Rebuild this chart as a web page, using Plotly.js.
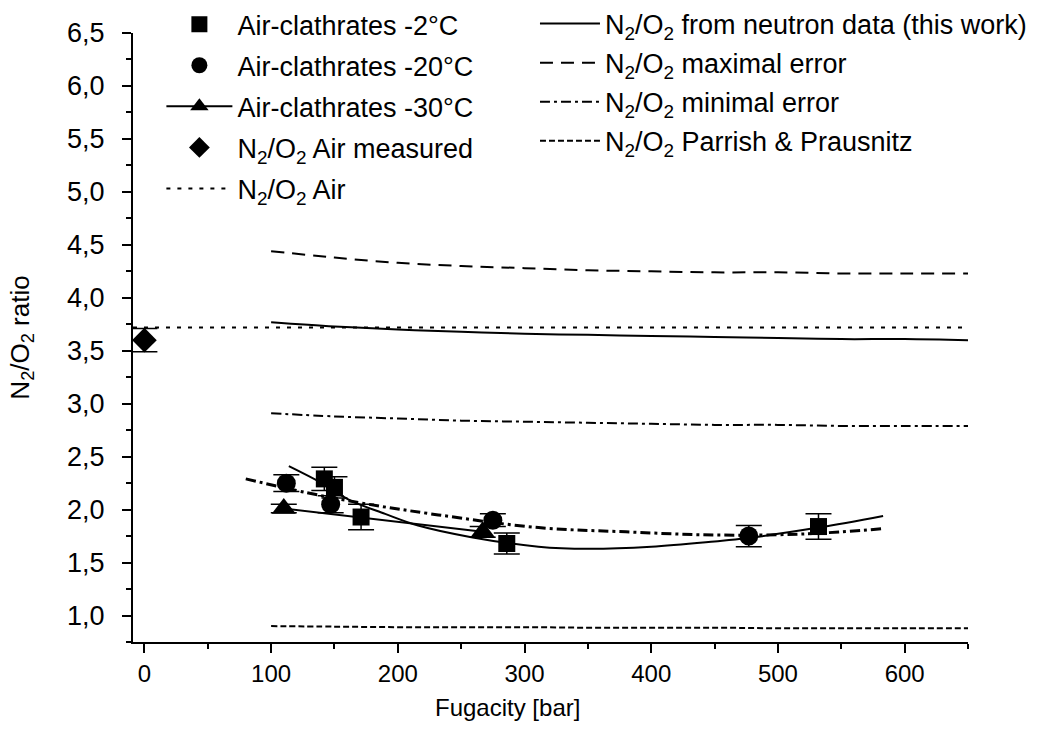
<!DOCTYPE html>
<html><head><meta charset="utf-8">
<script src="https://cdn.plot.ly/plotly-3.0.1.min.js"></script>
<style>html,body{margin:0;padding:0;background:#fff}#chart{width:1048px;height:736px}</style>
</head><body><div id="chart"></div>
<script>
// Air-clathrates -2°C (squares)
const sqX = [142, 150, 171, 286, 532];
const sqY = [2.29, 2.21, 1.93, 1.68, 1.84];
const sqErr = [0.11, 0.10, 0.12, 0.10, 0.12];
// Air-clathrates -20°C (circles)
const ciX = [112, 147, 275, 477];
const ciY = [2.25, 2.05, 1.90, 1.75];
const ciErr = [0.08, 0.08, 0.06, 0.10];
// Air-clathrates -30°C (triangles)
const trX = [110, 267];
const trY = [2.01, 1.79];
const trErr = [0.04, 0.05];
// N2/O2 Air measured (diamond)
const diX = [0];
const diY = [3.6];
const diErr = [0.11];
// N2/O2 Air reference line
const airX = [-9, 650];
const airY = [3.72, 3.72];
// Model curves vs fugacity
const modelX = [100, 150, 200, 250, 300, 350, 400, 450, 500, 550, 600, 650];
const neutronY = [3.77, 3.73, 3.70, 3.68, 3.66, 3.65, 3.64, 3.63, 3.62, 3.61, 3.61, 3.60];
const maxErrY = [4.44, 4.38, 4.33, 4.30, 4.28, 4.26, 4.25, 4.24, 4.24, 4.23, 4.23, 4.23];
const minErrY = [2.91, 2.88, 2.86, 2.84, 2.83, 2.82, 2.81, 2.80, 2.80, 2.79, 2.79, 2.79];
const parrishY = [0.90, 0.895, 0.89, 0.89, 0.89, 0.885, 0.885, 0.885, 0.88, 0.88, 0.88, 0.88];
// Fit curves through the clathrate data
const fitAX = [114, 140, 162, 190, 216, 258, 311, 350, 400, 450, 475, 532, 583];
const fitAY = [2.41, 2.25, 2.09, 1.96, 1.85, 1.74, 1.65, 1.63, 1.65, 1.70, 1.73, 1.83, 1.94];
const fitBX = [80, 128, 172, 232, 311, 380, 450, 520, 583];
const fitBY = [2.29, 2.16, 2.06, 1.95, 1.83, 1.79, 1.76, 1.77, 1.82];
// Texts
const xTitle = 'Fugacity [bar]';
const yTitle = 'N<sub>2</sub>/O<sub>2</sub> ratio';

const FONT = 'Liberation Sans, Arial, sans-serif';
const K = '#000';
const eb = (arr) => ({type: 'data', array: arr, visible: true, color: K, thickness: 1.5, width: 13});

const traces = [
  {x: sqX, y: sqY, error_y: eb(sqErr), mode: 'markers', name: 'Air-clathrates -2°C',
   marker: {symbol: 'square', size: 17, color: K}, legend: 'legend', legendgroup: 'a'},
  {x: ciX, y: ciY, error_y: eb(ciErr), mode: 'markers', name: 'Air-clathrates -20°C',
   marker: {symbol: 'circle', size: 19, color: K}, legend: 'legend', legendgroup: 'b'},
  {x: trX, y: trY, error_y: eb(trErr), mode: 'lines+markers', name: 'Air-clathrates -30°C',
   line: {color: K, width: 2}, marker: {symbol: 'triangle-up', size: 21, color: K}, legend: 'legend', legendgroup: 'c'},
  {x: diX, y: diY, error_y: eb(diErr), mode: 'markers', name: 'N<sub>2</sub>/O<sub>2</sub> Air measured',
   marker: {symbol: 'diamond', size: 19, color: K}, legend: 'legend', legendgroup: 'd'},
  {x: airX, y: airY, mode: 'lines', name: 'N<sub>2</sub>/O<sub>2</sub> Air',
   line: {color: K, width: 2, dash: '4px,7px'}, legend: 'legend', legendgroup: 'e'},
  {x: modelX, y: neutronY, mode: 'lines', name: 'N<sub>2</sub>/O<sub>2</sub> from neutron data (this work)',
   line: {color: K, width: 2, shape: 'spline'}, legend: 'legend2', legendgroup: 'f'},
  {x: modelX, y: maxErrY, mode: 'lines', name: 'N<sub>2</sub>/O<sub>2</sub> maximal error',
   line: {color: K, width: 2, dash: '13px,8px', shape: 'spline'}, legend: 'legend2', legendgroup: 'g'},
  {x: modelX, y: minErrY, mode: 'lines', name: 'N<sub>2</sub>/O<sub>2</sub> minimal error',
   line: {color: K, width: 2, dash: '10px,4px,3px,4px', shape: 'spline'}, legend: 'legend2', legendgroup: 'h'},
  {x: modelX, y: parrishY, mode: 'lines', name: 'N<sub>2</sub>/O<sub>2</sub> Parrish &amp; Prausnitz',
   line: {color: K, width: 2, dash: '6px,3px', shape: 'spline'}, legend: 'legend2', legendgroup: 'i'},
  {x: fitAX, y: fitAY, mode: 'lines', showlegend: false,
   line: {color: K, width: 2, shape: 'spline'}},
  {x: fitBX, y: fitBY, mode: 'lines', showlegend: false,
   line: {color: K, width: 3, dash: '10px,4px,3px,4px', shape: 'spline'}}
];

const layout = {
  width: 1048, height: 736,
  paper_bgcolor: '#fff', plot_bgcolor: '#fff',
  font: {family: FONT, size: 23, color: K},
  separators: ',.',
  margin: {l: 133, r: 80, t: 33, b: 94, autoexpand: false},
  showlegend: true,
  legend: {
    bgcolor: 'rgba(0,0,0,0)', borderwidth: 0, itemwidth: 66,
    xanchor: 'left', yanchor: 'top', x: 0.034, y: 1.054,
    traceorder: 'grouped', tracegroupgap: 3,
    font: {family: FONT, size: 27, color: K}
  },
  legend2: {
    bgcolor: 'rgba(0,0,0,0)', borderwidth: 0, itemwidth: 60,
    xanchor: 'left', yanchor: 'top', x: 0.4814, y: 1.055,
    traceorder: 'grouped', tracegroupgap: 1,
    font: {family: FONT, size: 27, color: K}
  },
  xaxis: {
    range: [-9, 650], showgrid: false, zeroline: false,
    showline: true, linecolor: K, linewidth: 2, mirror: false,
    ticks: 'outside', ticklen: 9, tickwidth: 2, tickcolor: K,
    tick0: 0, dtick: 100, tickformat: 'd', ticklabelstandoff: 0,
    minor: {ticks: 'outside', ticklen: 5, tickwidth: 2, tickcolor: K, dtick: 50, tick0: 0, showgrid: false},
    tickfont: {family: FONT, size: 24, color: K}
  },
  yaxis: {
    range: [0.75, 6.5], showgrid: false, zeroline: false,
    showline: true, linecolor: K, linewidth: 2, mirror: false,
    ticks: 'outside', ticklen: 9, tickwidth: 2, tickcolor: K,
    tick0: 0, dtick: 0.5, tickformat: '.1f', ticklabelstandoff: 12,
    minor: {ticks: 'outside', ticklen: 5, tickwidth: 2, tickcolor: K, dtick: 0.25, tick0: 0, showgrid: false},
    tickfont: {family: FONT, size: 27, color: K},
    title: {text: yTitle, font: {family: FONT, size: 26, color: K}, standoff: 30}
  },
  annotations: [
    {text: xTitle, xref: 'paper', yref: 'paper', x: 0.449, y: -0.108,
     xanchor: 'center', yanchor: 'middle', showarrow: false,
     font: {family: FONT, size: 24, color: K}}
  ]
};

Plotly.newPlot('chart', traces, layout, {staticPlot: true, displayModeBar: false});
</script>
</body></html>
